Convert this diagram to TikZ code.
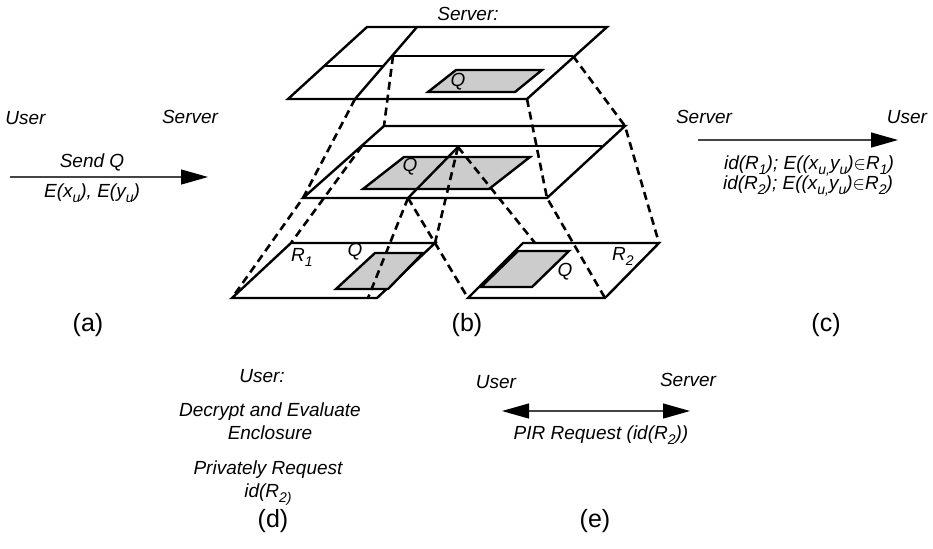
\documentclass[tikz,border=0pt]{standalone}
\usepackage{fontspec}
\setmainfont{Liberation Sans}
\usepackage{tikz}
\usetikzlibrary{arrows.meta}
\definecolor{cQuery}{HTML}{CCCCCC}
\definecolor{cMsg}{HTML}{444444}
\newcommand{\lowsub}[1]{\raisebox{-0.5ex}{\fontsize{7}{8}\selectfont #1}}
\tikzset{
  plane/.style={line width=1.2pt, line join=miter},
  qbox/.style={plane, fill=cQuery},
  proj/.style={line width=1.3pt, dash pattern=on 4pt off 2.5pt},
  lbl/.style={font=\itshape\fontsize{9.5}{11.5}\selectfont, inner sep=0pt, align=center},
  tag/.style={font=\fontsize{12.5}{14}\selectfont, inner sep=0pt},
  msg/.style={-{Triangle[length=13.5pt,width=7.5pt,color=black]}, line width=0.6pt, draw=cMsg},
  pir/.style={{Triangle[length=13.5pt,width=7.5pt,color=black]}-{Triangle[length=13.5pt,width=7.5pt,color=black]}, line width=0.6pt, draw=cMsg},
}

\begin{document}
\begin{tikzpicture}[x=0.5pt, y=-0.5pt]
\useasboundingbox (0,0) rectangle (933,548);

% (a) user sends the query
\node[lbl, anchor=base west] (userA) at (5,124) {User};
\node[lbl, anchor=base] (serverA) at (190,123) {Server};
\coordinate (sendS) at (10,177);
\coordinate (sendE) at (208,177);
\draw[msg] (sendS) -- (sendE);
\node[lbl, anchor=base] (sendQ) at (92,167) {Send Q};
\node[lbl, anchor=base] (encXY) at (92,197) {E(x\lowsub{u}), E(y\lowsub{u})};
\node[tag, anchor=base] (tagA) at (88,331) {(a)};

% (b) server side: the three levels
\node[lbl, anchor=base] (serverB) at (468,20) {Server:};
\coordinate (t1) at (355,99);
\coordinate (t2) at (393,56);
\coordinate (t3) at (527,99);
\coordinate (t4) at (573,56);
\draw[plane] (367,27) -- (607,27) -- (t3) -- (288,99) -- cycle;
\draw[plane] (417,27) -- (t1);
\draw[plane] (325,66) -- (384,66);
\draw[plane] (t2) -- (t4);
\draw[qbox] (456,70) -- (542,70) -- (515,92) -- (428,92) -- cycle;
\node[lbl] (qTop) at (458,82) {Q};

\coordinate (m1) at (303,198);
\coordinate (m2) at (384,126);
\coordinate (m3) at (362,146);
\coordinate (m4) at (625,126);
\coordinate (m5) at (547,198);
\coordinate (p1) at (458,147);
\coordinate (p2) at (408,198);
\draw[plane] (m2) -- (m4) -- (m5) -- (m1) -- cycle;
\draw[plane] (m3) -- (602,146);
\draw[qbox] (404,157) -- (530,157) -- (489,189) -- (363,189) -- cycle;
\draw[plane] (p1) -- (p2);
\node[lbl] (qMid) at (410,167) {Q};

\coordinate (r1tl) at (291,243);
\coordinate (r1tr) at (435,243);
\coordinate (r1br) at (377,298);
\coordinate (r1bl) at (232,298);
\coordinate (r1b) at (368,298);
\draw[plane] (r1tl) -- (r1tr) -- (r1br) -- (r1bl) -- cycle;
\draw[qbox] (375,253) -- (423,253) -- (388,289) -- (336,289) -- cycle;
\node[lbl] (rOne) at (302,257) {R\lowsub{1}};
\node[lbl] (qOne) at (355,252) {Q};

\coordinate (r2tl) at (523,243);
\coordinate (r2tr) at (659,243);
\coordinate (r2br) at (605,298);
\coordinate (r2bl) at (468,298);
\coordinate (r2t) at (535,243);
\draw[plane] (r2tl) -- (r2tr) -- (r2br) -- (r2bl) -- cycle;
\draw[qbox] (518,251) -- (569,251) -- (532,287) -- (481,287) -- cycle;
\node[lbl] (rTwo) at (623,256) {R\lowsub{2}};
\node[lbl] (qTwo) at (565,272) {Q};

% projections between the levels
\draw[proj] (t1) -- (m1) -- (r1bl);
\draw[proj] (t2) -- (m2);
\draw[proj] (m3) -- (r1tl);
\draw[proj] (t3) -- (m5) -- (r2br);
\draw[proj] (t4) -- (m4) -- (r2tr);
\draw[proj] (p1) -- (r1tr);
\draw[proj] (p1) -- (r2t);
\draw[proj] (p2) -- (r1b);
\draw[proj] (p2) -- (r2bl);
\node[tag, anchor=base] (tagB) at (467,331) {(b)};

% (c) server answers
\node[lbl, anchor=base] (serverC) at (704,123) {Server};
\node[lbl, anchor=base] (userC) at (907,123) {User};
\coordinate (ansS) at (698,140);
\coordinate (ansE) at (898,140);
\draw[msg] (ansS) -- (ansE);
\node[lbl, anchor=base] (ansOne) at (809,169) {id(R\lowsub{1}); E((x\lowsub{u,}y\lowsub{u})$\in$R\lowsub{1})};
\node[lbl, anchor=base] (ansTwo) at (808,189) {id(R\lowsub{2}); E((x\lowsub{u,}y\lowsub{u})$\in$R\lowsub{2})};
\node[tag, anchor=base] (tagC) at (826,331) {(c)};

% (d) user decrypts
\node[lbl, anchor=base] (userD) at (262,382) {User:};
\node[lbl, anchor=base] (decrypt) at (270,439) {Decrypt and Evaluate\\Enclosure};
\node[lbl, anchor=base] (request) at (268,497) {Privately Request\\id(R\lowsub{2)}};
\node[tag, anchor=base] (tagD) at (273,527) {(d)};

% (e) private retrieval
\node[lbl, anchor=base] (userE) at (496,388) {User};
\node[lbl, anchor=base] (serverE) at (688,386) {Server};
\coordinate (pirS) at (502,411);
\coordinate (pirE) at (690,411);
\draw[pir] (pirS) -- (pirE);
\node[lbl, anchor=base] (pirReq) at (601,439) {PIR Request (id(R\lowsub{2}))};
\node[tag, anchor=base] (tagE) at (595,527) {(e)};
\end{tikzpicture}
\end{document}
